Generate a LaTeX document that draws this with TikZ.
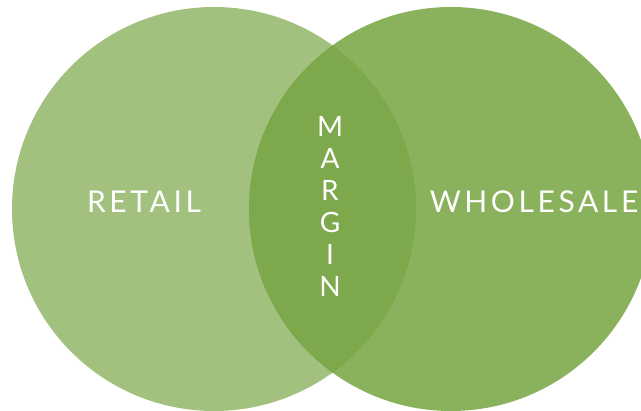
\documentclass[tikz,border=0pt]{standalone}
\usepackage{fontspec}
\setmainfont{Lato}
\usepackage{tikz}
\usetikzlibrary{positioning}
\definecolor{retailgreen}{HTML}{A2C17F}
\definecolor{wholegreen}{HTML}{8AB15B}
\definecolor{margingreen}{HTML}{7EA84C}
\tikzstyle{setcircle} = [circle, minimum size=404pt, inner sep=0pt, draw=none]
\tikzstyle{label} = [font=\fontsize{30}{30}\selectfont\addfontfeatures{LetterSpace=12}, text=white, inner sep=0pt]
\tikzstyle{stack} = [font=\fontsize{28}{32}\selectfont, text=white, align=center, inner sep=0pt]

\begin{document}
\begin{tikzpicture}[x=1pt, y=-1pt]
  \useasboundingbox (0,0) rectangle (641,411);
  \node (retail) [setcircle, fill=retailgreen] at (214,209) {};
  \node (wholesale) [setcircle, fill=wholegreen] at (451,209) {};
  \begin{scope}
    \clip (retail.center) circle (202pt);
    \fill[margingreen] (wholesale.center) circle (202pt);
  \end{scope}
  \node (retail text) [label] at (144,202) {RETAIL};
  \node (wholesale text) [label] at (534,202) {WHOLESALE};
  \node (margin text) [stack] at (330,206) {M\\A\\R\\G\\I\\N};
\end{tikzpicture}
\end{document}
